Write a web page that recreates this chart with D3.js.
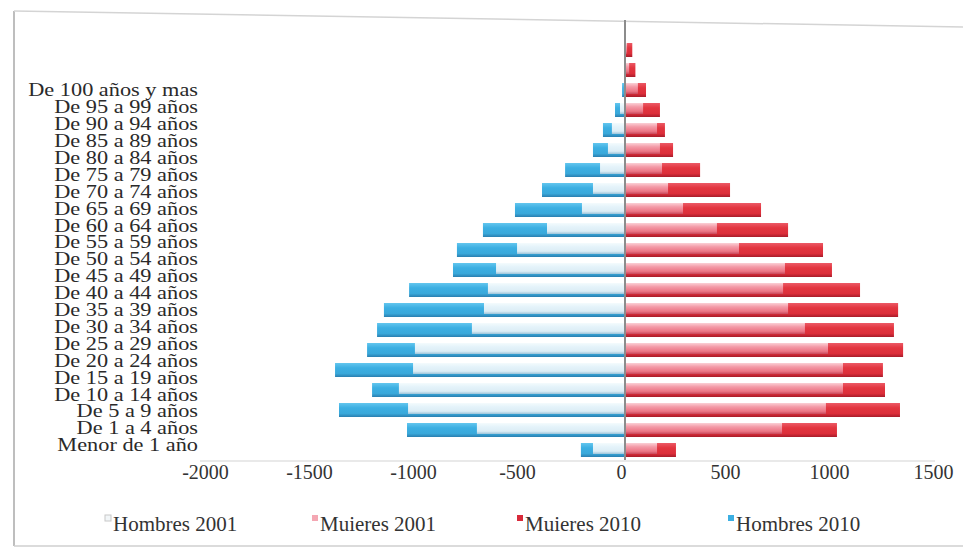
<!DOCTYPE html>
<html>
<head>
<meta charset="utf-8">
<script src="https://cdn.jsdelivr.net/npm/d3@7"></script>
<style>
  body { margin: 0; background: #fff; }
  svg { display: block; font-family: "Liberation Serif", "DejaVu Serif", serif; }
</style>
</head>
<body>
<div id="wrapper"></div>
<script>
// age groups, top to bottom as drawn
const ageGroups = [
  "De 100 años y mas", "De 95 a 99 años", "De 90 a 94 años", "De 85 a 89 años",
  "De 80 a 84 años", "De 75 a 79 años", "De 70 a 74 años", "De 65 a 69 años",
  "De 60 a 64 años", "De 55 a 59 años", "De 50 a 54 años", "De 45 a 49 años",
  "De 40 a 44 años", "De 35 a 39 años", "De 30 a 34 años", "De 25 a 29 años",
  "De 20 a 24 años", "De 15 a 19 años", "De 10 a 14 años", "De 5 a 9 años",
  "De 1 a 4 años", "Menor de 1 año",
];
const hombres2001 = [0, 0, 0, 5, 24, 63, 82, 120, 154, 207, 375, 519, 620, 659, 678, 736, 1010, 1019, 1087, 1043, 712, 154];
const hombres2010 = [0, 0, 0, 14, 48, 106, 154, 288, 399, 529, 683, 808, 827, 1038, 1159, 1192, 1240, 1394, 1216, 1375, 1048, 212];
const mujeres2001 = [0, 10, 20, 62, 87, 154, 168, 178, 207, 279, 442, 548, 769, 760, 784, 865, 976, 1048, 1048, 966, 755, 154];
const mujeres2010 = [0, 35, 50, 101, 168, 192, 231, 361, 505, 654, 784, 952, 995, 1130, 1313, 1293, 1337, 1240, 1250, 1322, 1019, 245];
const xTicks = [-2000, -1500, -1000, -500, 0, 500, 1000, 1500];
const legendLabels = ["Hombres 2001", "Muieres 2001", "Muieres 2010", "Hombres 2010"];

function drawPyramid() {
  const dimensions = {
    width: 963,
    height: 549,
    plotTop: 20,
    plotBottom: 460,
    plotLeft: 209,
    plotRight: 937,
  };

  const svg = d3
    .select("#wrapper")
    .append("svg")
    .attr("width", dimensions.width)
    .attr("height", dimensions.height);

  // gradients for the bevelled bars
  const defs = svg.append("defs");
  const gradients = {
    h2010: ["#63c6ee", "#3cafe2", "#39a8da", "#2a7fb0"],
    h2001: ["#f4fbfd", "#e4f3fa", "#dcedf5", "#9cc4da"],
    m2001: ["#fbd0d6", "#f39aa7", "#ec7686", "#c9485a"],
    m2010: ["#ec5a66", "#e2353f", "#dc2e3a", "#a81c2a"],
  };
  Object.entries(gradients).forEach(([id, stops]) => {
    const g = defs
      .append("linearGradient")
      .attr("id", "grad-" + id)
      .attr("x1", 0).attr("y1", 0).attr("x2", 0).attr("y2", 1);
    [0, 0.35, 0.75, 1].forEach((o, i) =>
      g.append("stop").attr("offset", o).attr("stop-color", stops[i])
    );
  });

  // outer frame (scanned page edges)
  svg.append("line")
    .attr("x1", 14).attr("y1", 11).attr("x2", 14).attr("y2", 546)
    .attr("stroke", "#a8a8a8").attr("stroke-width", 1.5);
  svg.append("line")
    .attr("x1", 14).attr("y1", 11).attr("x2", 963).attr("y2", 27)
    .attr("stroke", "#d4d4d4").attr("stroke-width", 1.5);
  svg.append("line")
    .attr("x1", 14).attr("y1", 546).attr("x2", 963).attr("y2", 546)
    .attr("stroke", "#cfcfcf").attr("stroke-width", 1.5);

  // scales
  const x = d3
    .scaleLinear()
    .domain([-2000, 1500])
    .range([dimensions.plotLeft, dimensions.plotRight]);

  const y = d3
    .scaleBand()
    .domain(ageGroups)
    .range([dimensions.plotTop, dimensions.plotBottom])
    .paddingInner(0.3)
    .paddingOuter(0.15);

  const rows = ageGroups.map((d, i) => ({
    group: d,
    h2001: hombres2001[i],
    h2010: hombres2010[i],
    m2001: mujeres2001[i],
    m2010: mujeres2010[i],
  }));

  // bars: 2010 behind, 2001 in front
  const plot = svg.append("g");
  const series = [
    { key: "h2010", sign: -1, inset: 0 },
    { key: "m2010", sign: 1, inset: 0 },
    { key: "h2001", sign: -1, inset: 3 },
    { key: "m2001", sign: 1, inset: 3 },
  ];
  series.forEach((s) => {
    plot
      .selectAll(".bar-" + s.key)
      .data(rows.filter((d) => d[s.key] > 0))
      .enter()
      .append("rect")
      .attr("class", "bar-" + s.key)
      .attr("x", (d) => Math.min(x(0), x(s.sign * d[s.key])))
      .attr("y", (d) => y(d.group))
      .attr("width", (d) => Math.abs(x(s.sign * d[s.key]) - x(0)))
      .attr("height", y.bandwidth() - s.inset)
      .attr("fill", `url(#grad-${s.key})`);
  });

  // zero line
  svg.append("line")
    .attr("x1", x(0)).attr("x2", x(0))
    .attr("y1", dimensions.plotTop).attr("y2", dimensions.plotBottom)
    .attr("stroke", "#8c8c8c").attr("stroke-width", 2);

  // bottom line of the plot area
  svg.append("line")
    .attr("x1", 200).attr("x2", 935)
    .attr("y1", dimensions.plotBottom + 1).attr("y2", dimensions.plotBottom + 1)
    .attr("stroke", "#e2e2e2").attr("stroke-width", 1.5);

  // x axis
  const xAxis = svg
    .append("g")
    .attr("transform", `translate(-4, ${dimensions.plotBottom + 2})`)
    .call(
      d3.axisBottom(x).tickValues(xTicks).tickSize(0).tickFormat((d) => String(d))
    );
  xAxis.select(".domain").remove();
  xAxis
    .selectAll("text")
    .attr("font-family", "Liberation Serif")
    .attr("font-size", 20)
    .attr("fill", "#333");

  // age labels, squeezed tighter than the bars like the original
  const labelY = d3.scalePoint().domain(ageGroups).range([90, 445]);
  const yAxis = svg
    .append("g")
    .attr("transform", "translate(198, 0) scale(1.24, 1)")
    .call(d3.axisLeft(labelY).tickSize(0).tickPadding(0));
  yAxis.select(".domain").remove();
  yAxis
    .selectAll("text")
    .attr("font-family", "Liberation Serif")
    .attr("font-size", 18)
    .attr("fill", "#2a2a2a");

  // legend
  const legendX = [113, 320, 525, 736];
  const legendFill = ["#f2f6f8", "#f4a7b3", "#d82a3a", "#3cafe2"];
  const legend = svg
    .selectAll(".legend")
    .data(legendLabels)
    .enter()
    .append("g")
    .attr("class", "legend")
    .attr("transform", (d, i) => `translate(${legendX[i]}, 531)`);
  legend
    .append("rect")
    .attr("x", -8).attr("y", -16)
    .attr("width", 6).attr("height", 6)
    .attr("fill", (d, i) => legendFill[i])
    .attr("stroke", (d, i) => (i === 0 ? "#c8c8c8" : "none"));
  legend
    .append("text")
    .attr("font-size", 21)
    .attr("fill", "#333")
    .text((d) => d);
}
drawPyramid();
</script>
</body>
</html>
